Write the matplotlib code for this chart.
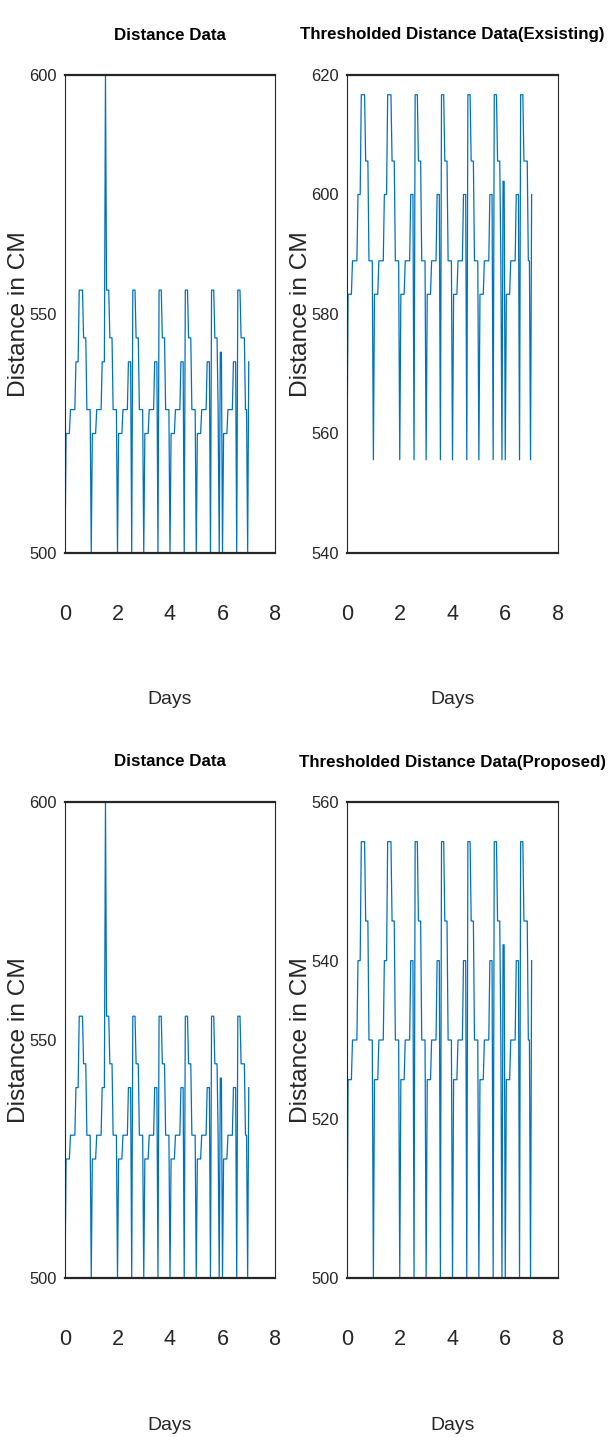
import numpy as np
import matplotlib
matplotlib.use('Agg')
import matplotlib.pyplot as plt
from matplotlib import font_manager

# hourly distance readings over one week (24 per day + closing sample)
distance_cm = [
    500, 525, 525, 525, 525, 530, 530, 530, 530, 530, 540, 540, 540, 555, 555, 555, 555, 545, 545, 545, 530, 530, 530, 530,
    500, 525, 525, 525, 525, 530, 530, 530, 530, 530, 540, 540, 540, 600, 555, 555, 555, 545, 545, 545, 530, 530, 530, 530,
    500, 525, 525, 525, 525, 530, 530, 530, 530, 530, 540, 540, 540, 500, 555, 555, 555, 545, 545, 545, 530, 530, 530, 530,
    500, 525, 525, 525, 525, 530, 530, 530, 530, 530, 540, 540, 540, 500, 555, 555, 555, 545, 545, 545, 530, 530, 530, 530,
    500, 525, 525, 525, 525, 530, 530, 530, 530, 530, 540, 540, 540, 500, 555, 555, 555, 545, 545, 545, 530, 530, 530, 530,
    500, 525, 525, 525, 525, 530, 530, 530, 530, 530, 540, 540, 540, 500, 555, 555, 555, 545, 545, 545, 530, 500, 542, 542,
    500, 525, 525, 525, 525, 530, 530, 530, 530, 530, 540, 540, 540, 500, 555, 555, 555, 545, 545, 545, 545, 530, 530, 500,
    540,
]

existing_cm = [
    555.6, 583.3, 583.3, 583.3, 583.3, 588.9, 588.9, 588.9, 588.9, 588.9, 600.0, 600.0, 600.0, 616.7, 616.7, 616.7, 616.7, 605.6, 605.6, 605.6, 588.9, 588.9, 588.9, 588.9,
    555.6, 583.3, 583.3, 583.3, 583.3, 588.9, 588.9, 588.9, 588.9, 588.9, 600.0, 600.0, 600.0, 616.7, 616.7, 616.7, 616.7, 605.6, 605.6, 605.6, 588.9, 588.9, 588.9, 588.9,
    555.6, 583.3, 583.3, 583.3, 583.3, 588.9, 588.9, 588.9, 588.9, 588.9, 600.0, 600.0, 600.0, 555.6, 616.7, 616.7, 616.7, 605.6, 605.6, 605.6, 588.9, 588.9, 588.9, 588.9,
    555.6, 583.3, 583.3, 583.3, 583.3, 588.9, 588.9, 588.9, 588.9, 588.9, 600.0, 600.0, 600.0, 555.6, 616.7, 616.7, 616.7, 605.6, 605.6, 605.6, 588.9, 588.9, 588.9, 588.9,
    555.6, 583.3, 583.3, 583.3, 583.3, 588.9, 588.9, 588.9, 588.9, 588.9, 600.0, 600.0, 600.0, 555.6, 616.7, 616.7, 616.7, 605.6, 605.6, 605.6, 588.9, 588.9, 588.9, 588.9,
    555.6, 583.3, 583.3, 583.3, 583.3, 588.9, 588.9, 588.9, 588.9, 588.9, 600.0, 600.0, 600.0, 555.6, 616.7, 616.7, 616.7, 605.6, 605.6, 605.6, 588.9, 555.6, 602.2, 602.2,
    555.6, 583.3, 583.3, 583.3, 583.3, 588.9, 588.9, 588.9, 588.9, 588.9, 600.0, 600.0, 600.0, 555.6, 616.7, 616.7, 616.7, 605.6, 605.6, 605.6, 605.6, 588.9, 588.9, 555.6,
    600.0,
]

proposed_cm = [
    500, 525, 525, 525, 525, 530, 530, 530, 530, 530, 540, 540, 540, 555, 555, 555, 555, 545, 545, 545, 530, 530, 530, 530,
    500, 525, 525, 525, 525, 530, 530, 530, 530, 530, 540, 540, 540, 555, 555, 555, 555, 545, 545, 545, 530, 530, 530, 530,
    500, 525, 525, 525, 525, 530, 530, 530, 530, 530, 540, 540, 540, 500, 555, 555, 555, 545, 545, 545, 530, 530, 530, 530,
    500, 525, 525, 525, 525, 530, 530, 530, 530, 530, 540, 540, 540, 500, 555, 555, 555, 545, 545, 545, 530, 530, 530, 530,
    500, 525, 525, 525, 525, 530, 530, 530, 530, 530, 540, 540, 540, 500, 555, 555, 555, 545, 545, 545, 530, 530, 530, 530,
    500, 525, 525, 525, 525, 530, 530, 530, 530, 530, 540, 540, 540, 500, 555, 555, 555, 545, 545, 545, 530, 500, 542, 542,
    500, 525, 525, 525, 525, 530, 530, 530, 530, 530, 540, 540, 540, 500, 555, 555, 555, 545, 545, 545, 545, 530, 530, 500,
    540,
]

days = np.arange(len(distance_cm)) / 24.0

titles = ['Distance Data', 'Thresholded Distance Data(Exsisting)',
          'Distance Data', 'Thresholded Distance Data(Proposed)']
series = [distance_cm, existing_cm, distance_cm, proposed_cm]
ylims = [(500, 600), (540, 620), (500, 600), (500, 560)]
yticks = [[500, 550, 600], [540, 560, 580, 600, 620],
          [500, 550, 600], [500, 520, 540, 560]]
xticks = [0, 2, 4, 6, 8]

# the reference text is very condensed, so prefer a narrow face
installed = {f.name for f in font_manager.fontManager.ttflist}
if 'Liberation Sans Narrow' in installed:
    face, k = 'Liberation Sans Narrow', 1.0
else:
    face, k = 'Liberation Sans', 0.82
plt.rcParams['font.family'] = [face, 'DejaVu Sans']

W, H = 608, 1437
# axes boxes in pixels: left, top, right, bottom
boxes = [(65, 75, 275, 553), (347, 75, 558, 553),
         (65, 802, 275, 1278), (347, 802, 558, 1278)]

fig = plt.figure(figsize=(W / 100, H / 100), dpi=100)
ink = '#262626'

for i, (l, t, r, b) in enumerate(boxes):
    ax = fig.add_axes([l / W, 1 - b / H, (r - l) / W, (b - t) / H])
    ax.plot(days, series[i], color='#0072BD', lw=0.9)
    ax.set_xlim(0, 8)
    ax.set_ylim(*ylims[i])
    ax.set_xticks(xticks)
    ax.set_yticks(yticks[i])
    h = b - t
    ax.tick_params(axis='x', length=0, pad=37, labelsize=19 * k, labelcolor=ink)
    ax.tick_params(axis='y', length=0, pad=6, labelsize=14.5 * k, labelcolor=ink)
    for side in ['top', 'bottom']:
        ax.spines[side].set_linewidth(1.6)
        ax.spines[side].set_color(ink)
    for side in ['left', 'right']:
        ax.spines[side].set_linewidth(0.8)
        ax.spines[side].set_color(ink)
    ax.set_title(titles[i], fontsize=14.8 * k, fontweight='bold',
                 va='center', y=1 + 40 / h, pad=0)
    ax.set_xlabel('Days', fontsize=17 * k, color=ink)
    ax.xaxis.label.set_va('center')
    ax.xaxis.set_label_coords(0.5, -147 / h)
    ax.set_ylabel('Distance in CM', fontsize=21.5 * k, color=ink)
    ax.yaxis.label.set_va('center')
    ax.yaxis.set_label_coords(-46 / (r - l), 0.5)

fig.savefig('out.png', dpi=100)
